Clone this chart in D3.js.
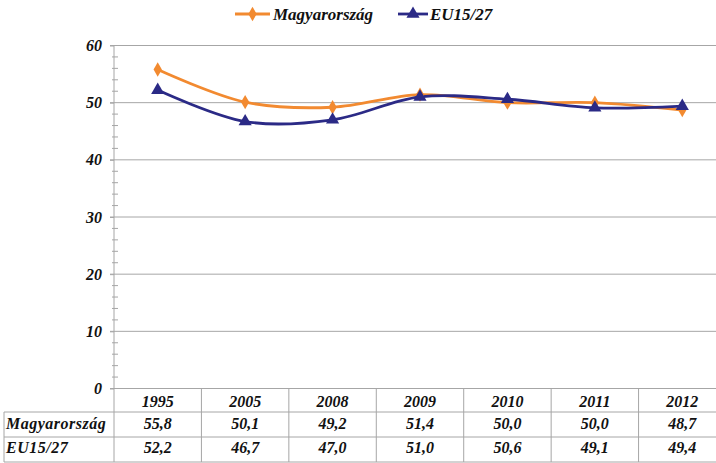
<!DOCTYPE html>
<html>
<head>
<meta charset="utf-8">
<script src="https://cdn.jsdelivr.net/npm/d3@7"></script>
<style>
  body { margin: 0; background: #fff; }
</style>
</head>
<body>
<script>
// data
var years = ['1995', '2005', '2008', '2009', '2010', '2011', '2012'];
var seriesNames = ['Magyarország', 'EU15/27'];
var huValues = [55.8, 50.1, 49.2, 51.4, 50.0, 50.0, 48.7];
var euValues = [52.2, 46.7, 47.0, 51.0, 50.6, 49.1, 49.4];
var yTicks = [0, 10, 20, 30, 40, 50, 60];
var yMinorTicks = d3.range(0, 60, 2).filter(function(d) { return d % 10 !== 0; });

var colors = ['#f28a30', '#2b2a86'];
var width = 716, height = 463;
var FONT = "'Liberation Serif', 'Times New Roman', Times, serif";

var svg = d3.select('body').append('svg')
	.attr('width', width)
	.attr('height', height);

// every label in the chart is bold italic serif
function styleText(sel, size) {
	return sel
		.style('font-family', FONT)
		.style('font-weight', 'bold')
		.style('font-style', 'italic')
		.style('font-size', size + 'px')
		.attr('fill', '#111');
}

var plot = { left: 114, right: 726, top: 45.5, bottom: 388.5 };

var xScale = d3.scaleBand().domain(years).range([plot.left, plot.right]);
var yScale = d3.scaleLinear().domain([0, 60]).range([plot.bottom, plot.top]);

var locale = d3.formatLocale({ decimal: ',', thousands: ' ', grouping: [3], currency: ['', ''] });
var fmt = locale.format('.1f');

// gridlines
svg.append('g')
	.attr('class', 'grid')
	.selectAll('line')
	.data(yTicks)
	.enter().append('line')
	.attr('x1', plot.left - 4)
	.attr('x2', plot.right)
	.attr('y1', function(d) { return yScale(d); })
	.attr('y2', function(d) { return yScale(d); })
	.attr('stroke', '#a6a6a6')
	.attr('stroke-width', 1);

// y axis (labels only, line drawn below)
var yAxis = svg.append('g')
	.attr('transform', `translate(${plot.left}, 0)`)
	.call(d3.axisLeft(yScale).tickValues(yTicks).tickSize(4).tickPadding(8));
yAxis.select('.domain').remove();
yAxis.selectAll('line').attr('stroke', '#a6a6a6');
styleText(yAxis.selectAll('text'), 16);

svg.append('line')
	.attr('x1', plot.left).attr('x2', plot.left)
	.attr('y1', plot.top).attr('y2', plot.bottom)
	.attr('stroke', '#a6a6a6');

// minor ticks crossing the axis
svg.append('g')
	.selectAll('line')
	.data(yMinorTicks)
	.enter().append('line')
	.attr('x1', plot.left - 2)
	.attr('x2', plot.left + 4)
	.attr('y1', function(d) { return yScale(d); })
	.attr('y2', function(d) { return yScale(d); })
	.attr('stroke', '#a6a6a6');

// data table under the chart
var rowTops = [plot.bottom, 412, 437, 462];
var tableLeft = 4;
var tbl = svg.append('g').attr('stroke', '#a6a6a6').attr('stroke-width', 1);

// horizontal rules
[1, 2, 3].forEach(function(i) {
	tbl.append('line')
		.attr('x1', tableLeft).attr('x2', plot.right)
		.attr('y1', rowTops[i]).attr('y2', rowTops[i]);
});
// left edge of the label column
tbl.append('line')
	.attr('x1', tableLeft).attr('x2', tableLeft)
	.attr('y1', rowTops[1]).attr('y2', rowTops[3]);
// column dividers
tbl.selectAll('.col')
	.data(years)
	.enter().append('line')
	.attr('class', 'col')
	.attr('x1', function(d) { return xScale(d); })
	.attr('x2', function(d) { return xScale(d); })
	.attr('y1', rowTops[0])
	.attr('y2', rowTops[3]);

// header years
styleText(svg.append('g')
	.selectAll('text')
	.data(years)
	.enter().append('text')
	.attr('x', function(d) { return xScale(d) + xScale.bandwidth() / 2; })
	.attr('y', 406.5)
	.attr('text-anchor', 'middle')
	.text(function(d) { return d; }), 16);

var rows = [huValues, euValues];
var rowBaselines = [429, 453];

rows.forEach(function(vals, r) {
	styleText(svg.append('text')
		.attr('x', 6)
		.attr('y', rowBaselines[r])
		.style('letter-spacing', '0.5px')
		.text(seriesNames[r]), 16);

	styleText(svg.append('g')
		.selectAll('text')
		.data(vals)
		.enter().append('text')
		.attr('x', function(d, i) { return xScale(years[i]) + xScale.bandwidth() / 2; })
		.attr('y', rowBaselines[r])
		.attr('text-anchor', 'middle')
		.text(function(d) { return fmt(d); }), 16);
});

// lines
var valueLine = d3.line()
	.x(function(d, i) { return xScale(years[i]) + xScale.bandwidth() / 2; })
	.y(function(d) { return yScale(d); })
	.curve(d3.curveCatmullRom);

rows.forEach(function(vals, r) {
	svg.append('path')
		.datum(vals)
		.attr('fill', 'none')
		.attr('stroke', colors[r])
		.attr('stroke-width', 2.8)
		.attr('d', valueLine);
});

var diamond = d3.symbol().type(d3.symbolDiamond).size(60);
var triangle = d3.symbol().type(d3.symbolTriangle).size(75);
var symbols = [diamond, triangle];

rows.forEach(function(vals, r) {
	svg.append('g')
		.selectAll('path')
		.data(vals)
		.enter().append('path')
		.attr('transform', function(d, i) {
			return `translate(${xScale(years[i]) + xScale.bandwidth() / 2}, ${yScale(d)})`;
		})
		.attr('d', symbols[r])
		.attr('fill', colors[r]);
});

// legend
var legendItems = [
	{ x1: 235, x2: 270, tx: 273 },
	{ x1: 398, x2: 428, tx: 430 }
];
legendItems.forEach(function(it, r) {
	var lg = svg.append('g');
	lg.append('line')
		.attr('x1', it.x1).attr('x2', it.x2)
		.attr('y1', 14).attr('y2', 14)
		.attr('stroke', colors[r])
		.attr('stroke-width', 2.8);
	lg.append('path')
		.attr('transform', `translate(${(it.x1 + it.x2) / 2}, 14)`)
		.attr('d', symbols[r])
		.attr('fill', colors[r]);
	styleText(lg.append('text')
		.attr('x', it.tx)
		.attr('y', 20)
		.text(seriesNames[r]), 17);
});
</script>
</body>
</html>
